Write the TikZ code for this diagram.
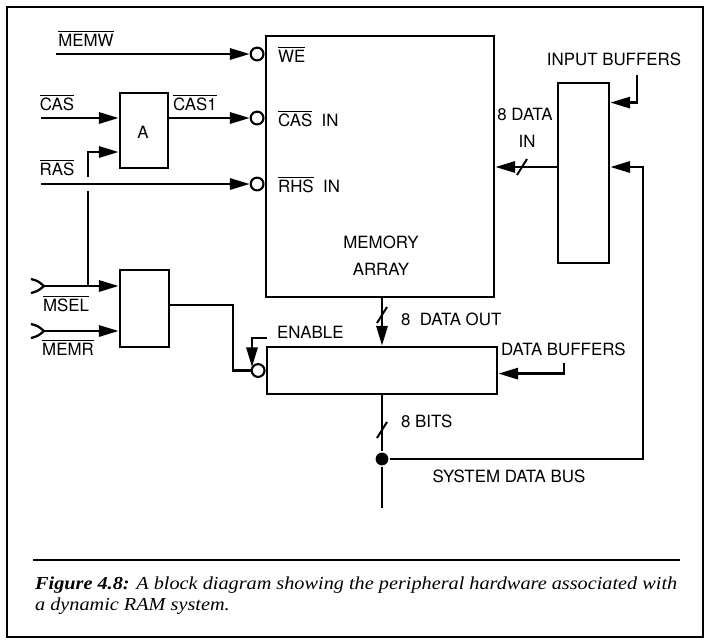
\documentclass[tikz,border=0pt]{standalone}
\usepackage{fontspec}
\setmainfont{TeX Gyre Heros}
\newfontfamily\capfont[FakeStretch=1.108]{Liberation Serif}
\usetikzlibrary{arrows.meta,calc}

\newcommand{\ovl}[1]{$\overline{\mbox{#1}}$}
\newcommand{\busmark}[1]{\draw[line width=1.4pt] #1 ++(-5,8) -- ++(10,-16);}

\begin{document}
\begin{tikzpicture}[x=0.025cm,y=-0.025cm,
    font=\fontsize{12}{14}\selectfont,
    line width=1.6pt,
    sig/.style={-{Triangle[length=14pt,width=8pt]}},
    blk/.style={draw, line width=2pt, inner sep=0pt},
    bub/.style={draw, circle, line width=1.5pt, fill=white, inner sep=0pt, minimum size=0.32cm},
    joint/.style={circle, fill, inner sep=0pt, minimum size=0.32cm},
    plug/.pic={\draw (-13,-7) .. controls (-6,-5) .. (0,0) .. controls (-6,5) .. (-13,7);}]
    \useasboundingbox (0,0) rectangle (708,641);
    % Frame
    \draw[line width=1.8pt] (7,7) rectangle (703,637);
    % Blocks
    \node[blk, minimum width=5.7cm, minimum height=6.525cm] (mem) at (380,166.5) {};
    \node[blk, minimum width=1.2cm, minimum height=1.875cm] (gateA) at (144,130.5) {};
    \node[anchor=base] at (143,138) {A};
    \node[blk, minimum width=1.225cm, minimum height=1.925cm] (gateB) at (144.5,308.5) {};
    \node[blk, minimum width=5.75cm, minimum height=1.175cm] (dbuf) at (382,370.5) {};
    \node[blk, minimum width=1.275cm, minimum height=4.5cm] (ibuf) at (583.5,173) {};
    \node[anchor=base] at (381,248) {MEMORY};
    \node[anchor=base] at (381,275) {ARRAY};
    % Signal rows
    \coordinate (memw) at (56,54);
    \coordinate (cas) at (41,118);
    \coordinate (ras) at (41,184);
    \coordinate (msel) at (44,286);
    \coordinate (memr) at (44,331);
    \node[bub, anchor=east] (we) at (mem.west |- memw) {};
    \node[bub, anchor=east] (casb) at (mem.west |- cas) {};
    \node[bub, anchor=east] (rhsb) at (mem.west |- ras) {};
    \node[bub, anchor=east] (enb) at (dbuf.west) {};
    % Inputs
    \draw[sig] (memw) -- (we);
    \draw[sig] (cas) -- (cas -| gateA.west);
    \draw[sig] (gateA.east |- cas) -- (casb);
    \draw[sig] (ras) -- (rhsb);
    \draw[sig] (msel) -- (msel -| gateB.west);
    \draw[sig] (memr) -- (memr -| gateB.west);
    \pic at (msel) {plug};
    \pic at (memr) {plug};
    % MSEL up to A, jumping over RAS
    \coordinate (tap) at (88,286);
    \coordinate (hoplo) at (88,191);
    \coordinate (hophi) at (88,177);
    \coordinate (ain) at (88,152);
    \draw (tap) -- (hoplo);
    \draw[sig] (hophi) -- (ain) -- (ain -| gateA.west);
    % Enable
    \coordinate (gbout) at (233,305);
    \draw (gateB.east |- gbout) -- (gbout) |- (enb);
    \coordinate (enl) at (267,338);
    \coordinate (enc) at (252,338);
    \coordinate (ent) at (252,367);
    \draw[sig] (enl) -- (enc) -- (ent);
    % Data paths
    \draw[sig] (mem.south -| dbuf.north) -- (dbuf.north);
    \busmark{(382,315)}
    \coordinate (din) at (ibuf.west |- 0,167);
    \draw[sig] (din) -- (din -| mem.east);
    \busmark{(522,167)}
    \node[joint] (jn) at (382,459) {};
    \coordinate (busend) at (382,508);
    \coordinate (busr) at (643,459);
    \draw (dbuf.south) -- (jn) -- (busend);
    \draw[sig] (jn) -- (busr) |- (ibuf.east |- din);
    \busmark{(382,430)}
    % Buffer controls
    \coordinate (ibl) at (637,75);
    \draw[sig] (ibl) |- ($(ibuf.north east)+(0,21)$);
    \coordinate (dbl) at (564,363);
    \draw[sig] (dbl) |- ($(dbuf.north east)+(0,28)$);
    % Labels
    \node[anchor=base] at (86,46) {\ovl{MEMW}};
    \node[anchor=base] at (57,110) {\ovl{CAS}};
    \node[anchor=base] at (57,175) {\ovl{RAS}};
    \node[anchor=base] at (195,110) {\ovl{CAS1}};
    \node[anchor=base] at (66,311) {\ovl{MSEL}};
    \node[anchor=base] at (68,355) {\ovl{MEMR}};
    \node[anchor=base west, inner sep=0pt] at (277,62) {\ovl{WE}};
    \node[anchor=base west, inner sep=0pt] at (277,126) {\ovl{CAS}\ \ IN};
    \node[anchor=base west, inner sep=0pt] at (277,192) {\ovl{RHS}\ \ IN};
    \node[anchor=base west, inner sep=0pt] at (276,338) {ENABLE};
    \node[anchor=base west, inner sep=0pt] at (400,325) {8\ \ DATA OUT};
    \node[anchor=base west, inner sep=0pt] at (500,355) {DATA BUFFERS};
    \node[anchor=base] at (614,65) {INPUT BUFFERS};
    \node[anchor=base] at (525,120) {8 DATA};
    \node[anchor=base] at (527,147) {IN};
    \node[anchor=base west, inner sep=0pt] at (400,427) {8 BITS};
    \node[anchor=base] at (509,482) {SYSTEM DATA BUS};
    % Caption
    \draw[line width=1.2pt] (33,560) -- (680,560);
    \node[anchor=base west, inner sep=0pt, font=\capfont\itshape\fontsize{13}{15}\selectfont] at (34,589)
        {\textbf{Figure 4.8:} A block diagram showing the peripheral hardware associated with};
    \node[anchor=base west, inner sep=0pt, font=\capfont\itshape\fontsize{13}{15}\selectfont] at (34,610)
        {a dynamic RAM system.};
\end{tikzpicture}
\end{document}
